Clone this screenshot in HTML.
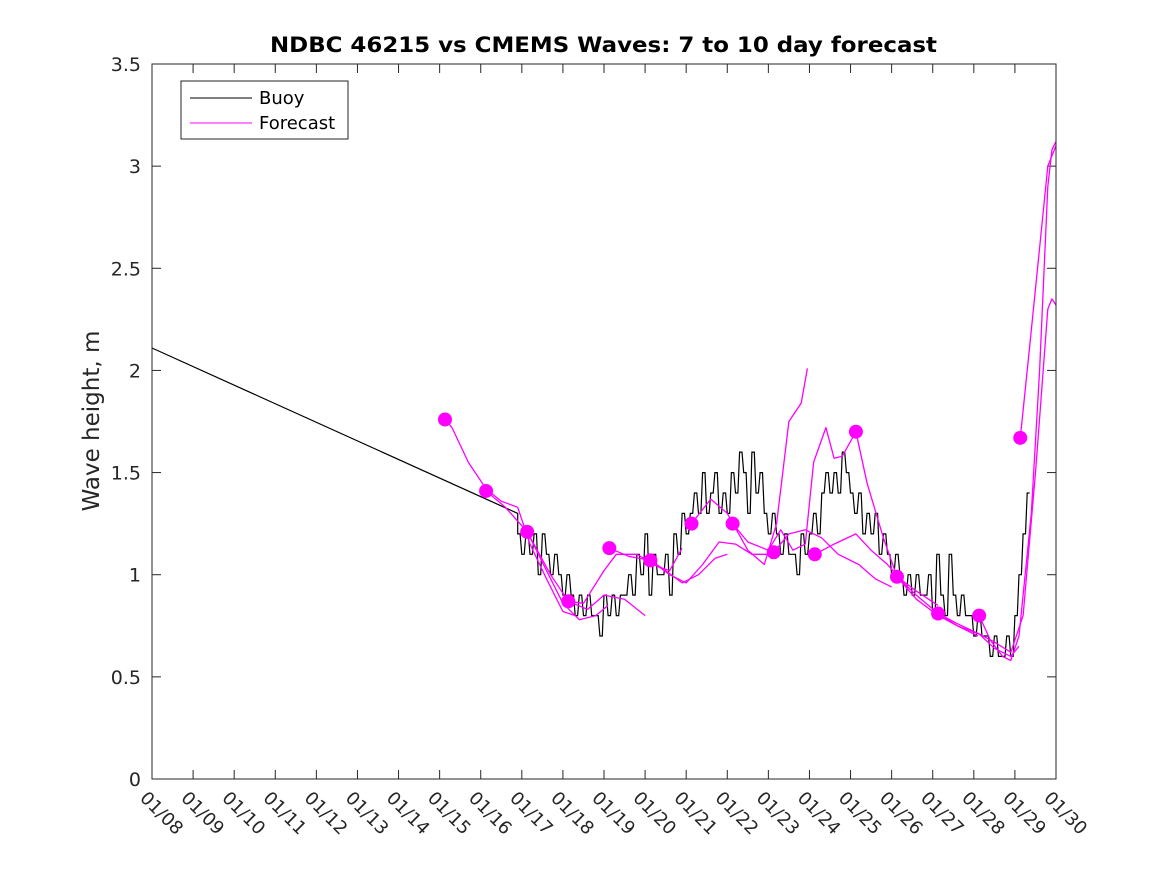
<!DOCTYPE html>
<html><head><meta charset="utf-8"><style>
html,body{margin:0;padding:0;background:#fff;}
svg{display:block;font-family:"DejaVu Sans","Liberation Sans",sans-serif;}
</style></head><body>
<svg id="chart" width="1167" height="875" viewBox="0 0 1167 875" xmlns="http://www.w3.org/2000/svg">
<rect x="0" y="0" width="1167" height="875" fill="#fff"/>
<text x="270" y="52" textLength="667" lengthAdjust="spacingAndGlyphs" font-size="21" font-weight="bold" fill="#000">NDBC 46215 vs CMEMS Waves: 7 to 10 day forecast</text>
<text transform="translate(99,421) rotate(-90)" text-anchor="middle" font-size="23" fill="#262626">Wave height, m</text>
<g id="plot"></g>
<rect x="152" y="64" width="904" height="715" fill="none" stroke="#262626" stroke-width="1"/>
<g>
<rect x="181" y="81" width="167" height="58" fill="#fff" stroke="#262626" stroke-width="1"/>
<line x1="190" y1="98" x2="252" y2="98" stroke="#000" stroke-width="1"/>
<text x="259" y="104" font-size="18" fill="#000">Buoy</text>
<line x1="190" y1="123" x2="252" y2="123" stroke="#ff00ff" stroke-width="1"/>
<text x="259" y="129" font-size="18" fill="#000">Forecast</text>
</g>
</svg>
<script>
const xTickLabels=["01/08","01/09","01/10","01/11","01/12","01/13","01/14","01/15","01/16","01/17","01/18","01/19","01/20","01/21","01/22","01/23","01/24","01/25","01/26","01/27","01/28","01/29","01/30"];
const yTicks=[0,0.5,1,1.5,2,2.5,3,3.5];
const buoyStartDay=8.9;
const buoyStep=0.1;
const buoyLead=[[0,2.11],[8.9,1.30]];
const buoyValues=[1.2,1.1,1.2,1.1,1.2,1.0,1.2,1.1,1.0,1.1,
1.0,0.9,1.0,0.9,0.8,0.9,0.8,0.9,0.8,0.8,
0.7,0.9,0.8,0.9,0.8,0.9,0.9,1.0,0.9,1.1,
1.0,1.2,0.9,1.1,1.0,1.0,1.1,0.9,1.2,1.1,
1.3,1.2,1.3,1.4,1.3,1.5,1.3,1.4,1.5,1.3,
1.4,1.3,1.5,1.4,1.6,1.5,1.3,1.6,1.4,1.5,
1.3,1.2,1.3,1.2,1.1,1.2,1.1,1.1,1.0,1.2,
1.1,1.2,1.3,1.2,1.4,1.5,1.4,1.5,1.4,1.6,
1.5,1.4,1.3,1.4,1.2,1.3,1.2,1.3,1.1,1.2,
1.1,1.0,1.1,1.0,0.9,1.0,0.9,1.0,0.9,0.9,
1.0,0.8,1.1,0.9,0.8,1.1,0.9,0.8,0.9,0.8,
0.8,0.7,0.8,0.7,0.7,0.6,0.7,0.6,0.6,0.7,
0.6,0.8,1.0,1.2,1.4];
const forecastDays=[
[7.13,7.3,7.7,8.13,8.5,8.9,9.2,9.6,10.0,10.3],
[8.13,8.6,9.13,9.6,10.0,10.4,10.8,11.1],
[9.13,9.7,10.13,10.6,11.0,11.5,12.0],
[10.13,10.5,11.0,11.3,11.8,12.3,12.6,12.9],
[11.13,11.6,12.13,12.5,12.9,13.3,13.7,14.0],
[12.13,12.6,13.0,13.4,13.8,14.2,14.6,15.0],
[13.13,13.6,14.0,14.5,14.9,15.2,15.5,15.8,15.95],
[14.13,14.5,15.0,15.3,15.6,15.9,16.1,16.4,16.6,16.8,17.13,17.4,17.8,18.13,18.6,19.13,19.6,20.1],
[15.13,15.5,15.9,16.3,16.7,17.2,17.6,18.0],
[16.13,16.6,17.13,17.5,17.9,18.2,18.6,19.13],
[18.13,18.6,19.13,19.6,20.13,20.5,20.9,21.1],
[19.13,19.6,20.13,20.5,20.9,21.2,21.5,21.8,21.9,22.0],
[20.13,20.4,20.7,20.9,21.1,21.4,21.6,21.8,21.9,22.0],
[21.13,21.35,21.6,21.8,22.0]];
const forecastValues=[
[1.76,1.72,1.55,1.42,1.36,1.33,1.15,0.98,0.82,0.80],
[1.41,1.33,1.21,1.02,0.86,0.78,0.80,0.85],
[1.21,1.0,0.87,0.83,0.90,0.88,0.80],
[0.87,0.86,1.02,1.10,1.10,1.04,1.02,1.13],
[1.13,1.09,1.07,1.02,0.96,1.0,1.08,1.10],
[1.07,1.0,0.96,1.05,1.16,1.15,1.10,1.10],
[1.25,1.37,1.30,1.12,1.05,1.25,1.75,1.84,2.01],
[1.25,1.16,1.12,1.22,1.12,1.15,1.55,1.72,1.57,1.58,1.70,1.45,1.18,0.99,0.90,0.81,0.75,0.70],
[1.11,1.20,1.22,1.18,1.10,1.05,0.98,0.94],
[1.10,1.15,1.20,1.12,1.05,0.98,0.92,0.85],
[0.99,0.88,0.80,0.75,0.71,0.64,0.60,0.65],
[0.81,0.76,0.71,0.67,0.62,0.80,1.50,2.30,2.35,2.32],
[0.80,0.68,0.60,0.58,0.70,1.30,2.00,2.90,3.08,3.12],
[1.67,2.10,2.60,3.00,3.10]];
const dotDays=[7.13,8.13,9.13,10.13,11.13,12.13,13.13,14.13,15.13,16.13,17.13,18.13,19.13,20.13,21.13];
const dotValues=[1.76,1.41,1.21,0.87,1.13,1.07,1.25,1.25,1.11,1.10,1.70,0.99,0.81,0.80,1.67];

const X0=152,X1=1056,Y0=779,Y1=64;
function xs(d){return X0+(X1-X0)*d/22;}
function ys(v){return Y0-(Y0-Y1)*v/3.5;}
const NS="http://www.w3.org/2000/svg";
const plot=document.getElementById('plot');
function mk(t,a){const e=document.createElementNS(NS,t);for(const k in a)e.setAttribute(k,a[k]);return e;}

xTickLabels.forEach((lab,i)=>{
  const x=xs(i);
  const t1=mk('line',{x1:x,y1:Y0,x2:x,y2:Y0-9,stroke:'#262626'});
  
  
  plot.appendChild(t1);
  const t2=mk('line',{x1:x,y1:Y1,x2:x,y2:Y1+9,stroke:'#262626'});
  
  
  plot.appendChild(t2);
  const tx=mk('text',{x:0,y:0,transform:`translate(${x-13},${Y0+20}) rotate(45)`,'font-size':18,fill:'#262626'});
  tx.textContent=lab;
  
  
  plot.appendChild(tx);
});
yTicks.forEach(v=>{
  const y=ys(v);
  const t1=mk('line',{x1:X0,y1:y,x2:X0+9,y2:y,stroke:'#262626'});
  
  
  plot.appendChild(t1);
  const t2=mk('line',{x1:X1,y1:y,x2:X1-9,y2:y,stroke:'#262626'});
  
  
  plot.appendChild(t2);
  const tx=mk('text',{x:X0-11,y:y+7,'text-anchor':'end','font-size':19,fill:'#262626'});
  tx.textContent=String(v);
  
  
  plot.appendChild(tx);
});

let bp=buoyLead.map(p=>xs(p[0]).toFixed(1)+','+ys(p[1]).toFixed(1));
buoyValues.forEach((v,i)=>{
  const x=xs(buoyStartDay+i*buoyStep);
  bp.push(x.toFixed(1)+','+ys(v).toFixed(1));
  bp.push((x+2.4).toFixed(1)+','+ys(v).toFixed(1));
});
const buoy=mk('polyline',{points:bp.join(' '),fill:'none',stroke:'#000','stroke-width':1.2});


plot.appendChild(buoy);

forecastDays.forEach((ds,j)=>{
  const pts=ds.map((d,i)=>xs(d).toFixed(1)+','+ys(forecastValues[j][i]).toFixed(1)).join(' ');
  const pl=mk('polyline',{points:pts,fill:'none',stroke:'#ff00ff','stroke-width':1.3,'stroke-linejoin':'round'});
  
  
  plot.appendChild(pl);
});
dotDays.forEach((d,i)=>{
  const c=mk('circle',{cx:xs(d),cy:ys(dotValues[i]),r:7,fill:'#ff00ff'});
  
  
  plot.appendChild(c);
});
</script>
</body></html>
